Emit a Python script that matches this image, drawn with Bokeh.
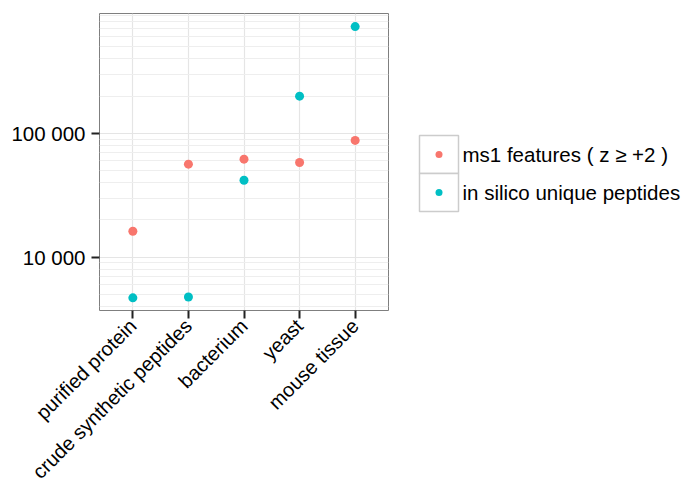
import math
from bokeh.plotting import figure
from bokeh.models import ColumnDataSource, FactorRange, Range1d, FixedTicker, CustomJSTickFormatter
from bokeh.layouts import row
from bokeh.embed import file_html
from bokeh.resources import INLINE
from bokeh.core.properties import value

# ---- data ----
categories = ["purified protein", "crude synthetic peptides", "bacterium", "yeast", "mouse tissue"]
ms1_features = [16200, 56400, 61900, 58200, 87700]
in_silico_peptides = [4700, 4770, 41800, 199600, 728000]
series_labels = ["ms1 features ( z \u2265 +2 )", "in silico unique peptides"]
series_colors = ["#F8766D", "#00BFC4"]
y_major_ticks = [10000, 100000]

FONT = "Liberation Sans"
FS = "20.5px"

p = figure(
    x_range=FactorRange(factors=categories, range_padding=0.1, range_padding_units="absolute"),
    y_axis_type="log", y_range=Range1d(3715, 928000),
    width=398, height=493, output_backend="svg", toolbar_location=None,
    min_border_left=99, min_border_right=10, min_border_top=13, min_border_bottom=0,
)
p.frame_align = False
p.background_fill_color = "white"
p.border_fill_color = "white"
p.outline_line_color = "#7F7F7F"
p.outline_line_width = 1

for vals, col in zip([ms1_features, in_silico_peptides], series_colors):
    src = ColumnDataSource(dict(x=categories, y=vals))
    p.scatter(x="x", y="y", source=src, size=9, fill_color=col, line_color=None)

minor = [m * 10 ** k for k in range(3, 6) for m in range(2, 10)]
p.yaxis.ticker = FixedTicker(ticks=y_major_ticks, minor_ticks=minor)
p.yaxis.formatter = CustomJSTickFormatter(
    code="return tick.toFixed(0).replace(/\\B(?=(\\d{3})+(?!\\d))/g, ' ');")

p.xgrid.grid_line_color = "#E5E5E5"
p.xgrid.grid_line_width = 1.2
p.ygrid.grid_line_color = "#E5E5E5"
p.ygrid.grid_line_width = 1.2
p.ygrid.minor_grid_line_color = "#EEEEEE"

for ax in (p.xaxis, p.yaxis):
    ax.axis_line_color = None
    ax.major_tick_line_color = "#222222"
    ax.major_tick_line_width = 2
    ax.major_tick_out = 8
    ax.major_tick_in = 0
    ax.minor_tick_line_color = None
    ax.major_label_text_font = FONT
    ax.major_label_text_font_size = FS
    ax.major_label_text_color = "black"
p.xaxis.major_label_text_font_size = "20px"
p.yaxis.major_label_standoff = 6
p.xaxis.major_label_standoff = 4
p.xaxis.major_label_orientation = math.pi / 4

# ---- legend panel (1 unit = 1 px) ----
LW, LH = 291, 493
lg = figure(width=LW, height=LH, x_range=Range1d(0, LW), y_range=Range1d(LH, 0),
            output_backend="svg", toolbar_location=None, min_border=0,
            x_axis_location=None, y_axis_location=None)
lg.frame_align = False
lg.outline_line_color = None
lg.grid.visible = False
lg.background_fill_color = "white"
lg.border_fill_color = "white"

key_top, key_h, key_x0, key_w = 135, 38, 21, 39
ys = [key_top + key_h * (i + 0.5) for i in range(len(series_labels))]
xc = [key_x0 + key_w / 2] * len(series_labels)
lg.rect(x=xc, y=ys, width=key_w, height=key_h, fill_color="white",
        line_color="#CCCCCC", line_width=1.5)
lg.scatter(x=xc, y=ys, size=7, fill_color=series_colors, line_color=None)
lg.text(x=[key_x0 + key_w + 4] * len(series_labels), y=ys, text=series_labels,
        text_baseline="middle", text_font=value(FONT), text_font_size=FS,
        text_color="black")

layout = row(p, lg)
open("out.html", "w").write(file_html(layout, INLINE))
